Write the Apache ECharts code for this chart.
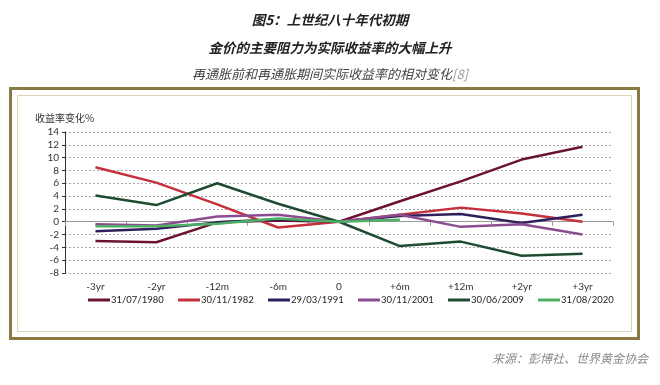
<!DOCTYPE html>
<html>
<head>
<meta charset="utf-8">
<script src="https://cdn.jsdelivr.net/npm/echarts@6/dist/echarts.min.js"></script>
<style>html,body{margin:0;padding:0;background:#fff;}#c{width:660px;height:385px;}</style>
</head>
<body>
<div id="c"></div>
<script>
const categories = ['-3yr', '-2yr', '-12m', '-6m', '0', '+6m', '+12m', '+2yr', '+3yr'];
const s1980 = [-3.0, -3.2, -0.1, 0.2, 0, 3.2, 6.3, 9.7, 11.7];
const s1982 = [8.5, 6.1, 2.7, -0.9, 0, 1.1, 2.2, 1.3, 0.0];
const s1991 = [-1.5, -1.1, -0.1, 0.4, 0, 0.9, 1.2, -0.2, 1.1];
const s2001 = [-0.4, -0.6, 0.8, 1.1, 0, 1.1, -0.8, -0.4, -2.0];
const s2009 = [4.1, 2.6, 6.0, 2.8, 0, -3.8, -3.1, -5.3, -5.0];
const s2020 = [-0.7, -0.7, -0.3, 0.5, 0, 0.3, null, null, null];
const seriesNames = ['31/07/1980', '30/11/1982', '29/03/1991', '30/11/2001', '30/06/2009', '31/08/2020'];
const seriesColors = ['#6A1432', '#C4303C', '#2F1F5C', '#8B4C92', '#1F4B33', '#4DB064'];
const seriesData = [s1980, s1982, s1991, s2001, s2009, s2020];
const yTicks = { min: -8, max: 14, interval: 2 };

const chart = echarts.init(document.getElementById('c'), null, { renderer: 'canvas' });
const numFont = 'Lato, "Noto Sans", sans-serif';
const cjkFont = '"Noto Sans CJK SC", sans-serif';

const legends = seriesNames.map((n, i) => ({
  left: 88 + i * 90, top: 295, padding: 0,
  icon: 'rect', itemWidth: 22, itemHeight: 3,
  textStyle: { fontFamily: numFont, fontSize: 9.5, color: '#222', padding: [0, 0, 0, -4] },
  data: [n]
}));

chart.setOption({
  animation: false,
  backgroundColor: '#fff',
  graphic: [
    { type: 'rect', z: -10, shape: { x: 10.5, y: 88.5, width: 628, height: 250 }, style: { fill: '#fff', stroke: '#8A7943', lineWidth: 3 } },
    { type: 'rect', z: -9, shape: { x: 17.5, y: 95.5, width: 614, height: 236 }, style: { fill: '#fff', stroke: '#DCD3B4', lineWidth: 1 } },
    { type: 'text', left: 35, top: 113, style: { text: '收益率变化%', font: '10px ' + cjkFont, fill: '#333' } },
    { type: 'text', right: 12, top: 352, style: { text: '来源：彭博社、世界黄金协会', font: 'italic 12px ' + cjkFont, fill: '#8A8A8A' } }
  ],
  title: [
    { text: '图5：上世纪八十年代初期', left: 'center', top: 8, textStyle: { fontFamily: cjkFont, fontSize: 13.5, fontWeight: 'bold', fontStyle: 'italic', color: '#222' } },
    { text: '金价的主要阻力为实际收益率的大幅上升', left: 'center', top: 36, textStyle: { fontFamily: cjkFont, fontSize: 13.5, fontWeight: 'bold', fontStyle: 'italic', color: '#222' } },
    { text: '再通胀前和再通胀期间实际收益率的相对变化{g|[8]}', left: 'center', top: 63, textStyle: { fontFamily: cjkFont, fontSize: 13, fontWeight: 'normal', fontStyle: 'italic', color: '#444', rich: { g: { fontFamily: cjkFont, fontSize: 13, fontStyle: 'italic', color: '#999' } } } }
  ],
  legend: legends,
  grid: { left: 65, right: 47, top: 132, bottom: 112 },
  xAxis: [
    {
      type: 'category', data: categories, position: 'bottom',
      axisLine: { show: false, onZero: false }, axisTick: { show: false },
      axisLabel: { fontFamily: numFont, fontSize: 10, color: '#333', margin: 9 }
    },
    {
      type: 'category', data: categories, position: 'bottom',
      axisLine: { show: true, onZero: true, lineStyle: { color: '#9A9A9A', width: 1 } },
      axisTick: { show: true, length: 4, lineStyle: { color: '#9A9A9A' } },
      axisLabel: { show: false }, splitLine: { show: false }
    }
  ],
  yAxis: {
    type: 'value', min: yTicks.min, max: yTicks.max, interval: yTicks.interval,
    axisLine: { show: true, lineStyle: { color: '#333', width: 1 } },
    axisTick: { show: true, length: 3, lineStyle: { color: '#333' } },
    axisLabel: { fontFamily: numFont, fontSize: 10, color: '#333', margin: 6 },
    splitLine: { show: true, lineStyle: { color: '#A8A8A8', type: [2, 2], width: 1 } }
  },
  series: seriesNames.map((n, i) => ({
    name: n, type: 'line', xAxisIndex: 0, data: seriesData[i],
    showSymbol: false, symbol: 'none', smooth: false, connectNulls: false,
    lineStyle: { width: 2.5, color: seriesColors[i] },
    itemStyle: { color: seriesColors[i] },
    emphasis: { disabled: true }
  }))
});
</script>
</body>
</html>
